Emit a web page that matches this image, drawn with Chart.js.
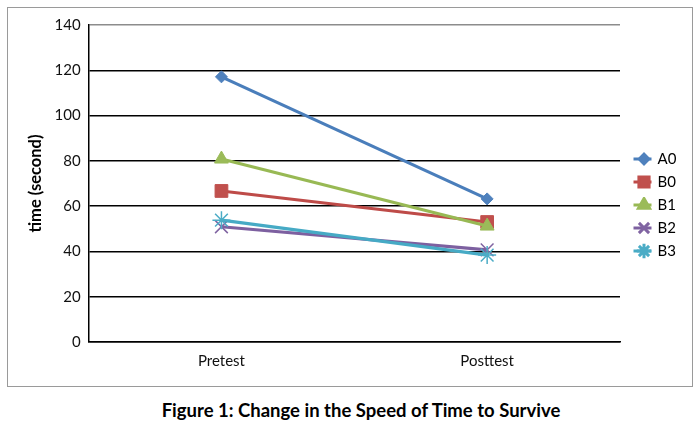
<!DOCTYPE html>
<html>
<head>
<meta charset="utf-8">
<script src="https://cdn.jsdelivr.net/npm/chart.js@4.4.1/dist/chart.umd.min.js"></script>
<style>
  html, body { margin: 0; padding: 0; background: #fff; overflow: hidden; }
  #frame {
    position: absolute; left: 7px; top: 7px; width: 686px; height: 380px;
    box-sizing: border-box; border: 1px solid #9a9a9a;
  }
  #chart { position: absolute; left: 8px; top: 8px; }
  #caption {
    position: absolute; left: 0; top: 399px; width: 722px; text-align: center;
    font: bold 18.5px Lato, "Noto Sans", sans-serif; color: #000;
  }
</style>
</head>
<body>
<div id="frame"></div>
<canvas id="chart" width="684" height="378"></canvas>
<div id="caption">Figure 1: Change in the Speed of Time to Survive</div>
<script>
// values
const categories = ["Pretest", "Posttest"];
const seriesNames = ["A0", "B0", "B1", "B2", "B3"];
const a0 = [117.1, 63.2];
const b0 = [66.7, 53.0];
const b1 = [80.8, 51.2];
const b2 = [50.9, 40.7];
const b3 = [53.8, 38.4];
const yTicks = [0, 20, 40, 60, 80, 100, 120, 140];

// Excel 2007 default series look
const lineColors = ["#4A7EBB", "#BE4B48", "#98B954", "#7D60A0", "#46AAC5"];
const fillColors = ["#4F81BD", "#C0504D", "#9BBB59", "#8064A2", "#4BACC6"];
const markers = ["rectRot", "rect", "triangle", "crossRot", "star"];
const markerSize = [6, 9, 8, 9, 9];
const values = [a0, b0, b1, b2, b3];

const FONT = "Lato, 'Noto Sans', sans-serif";

// small line+marker icons for the legend
function makeIcon(i) {
    const c = document.createElement("canvas");
    c.width = 32;
    c.height = 16;
    const ctx = c.getContext("2d");
    ctx.strokeStyle = lineColors[i];
    ctx.lineWidth = 3;
    ctx.beginPath();
    ctx.moveTo(10.5, 8);
    ctx.lineTo(28.5, 8);
    ctx.stroke();
    ctx.fillStyle = fillColors[i];
    ctx.strokeStyle = fillColors[i];
    Chart.helpers.drawPoint(ctx, {
        pointStyle: markers[i],
        radius: markerSize[i] * 0.8,
        rotation: 0,
        borderWidth: i >= 3 ? 1.5 : 1,
    }, 21, 8);
    return c;
}
const legendIcons = seriesNames.map((_, i) => makeIcon(i));

const datasets = seriesNames.map((name, i) => ({
    label: name,
    data: values[i],
    borderColor: lineColors[i],
    backgroundColor: fillColors[i],
    borderWidth: 3.2,
    pointStyle: markers[i],
    pointRadius: markerSize[i],
    pointBackgroundColor: fillColors[i],
    pointBorderColor: fillColors[i],
    pointBorderWidth: i >= 3 ? 1.5 : 1,
    tension: 0,
    order: seriesNames.length - i, // later series on top, like Excel
}));

// fix the legend column width so the plot ends where the reference does
const legendWidth = {
    id: "legendWidth",
    beforeInit(chart) {
        const fit = chart.legend.fit;
        chart.legend.fit = function () {
            fit.call(this);
            this.width = 72;
        };
    },
};

new Chart(document.getElementById("chart"), {
    type: "line",
    data: { labels: categories, datasets: datasets },
    plugins: [legendWidth],
    options: {
        responsive: false,
        animation: false,
        layout: { padding: { top: 16, left: 0, right: 0, bottom: 0 } },
        plugins: {
            tooltip: { enabled: false },
            legend: {
                position: "right",
                labels: {
                    usePointStyle: true,
                    pointStyleWidth: 22,
                    padding: 8,
                    color: "#000",
                    font: { family: FONT, size: 15 },
                    sort: (a, b) => a.datasetIndex - b.datasetIndex,
                    generateLabels(chart) {
                        const items = Chart.defaults.plugins.legend.labels.generateLabels(chart);
                        items.forEach(it => { it.pointStyle = legendIcons[it.datasetIndex]; });
                        return items;
                    },
                },
            },
        },
        scales: {
            x: {
                offset: true,
                afterFit(scale) { scale.height = 44; },
                grid: {
                    drawTicks: false,
                    lineWidth: 1,
                    color: ctx => (ctx.index === 2 ? "#8c8c8c" : "rgba(0,0,0,0)"),
                },
                border: { display: true, color: "#000", width: 1.5 },
                ticks: { color: "#111", padding: 10, font: { family: FONT, size: 15 } },
            },
            y: {
                min: 0,
                max: 140,
                afterFit(scale) { scale.width = 80.6; },
                afterBuildTicks(scale) { scale.ticks = yTicks.map(v => ({ value: v })); },
                grid: {
                    drawTicks: false,
                    lineWidth: 1.5,
                    color: ctx => (ctx.tick && ctx.tick.value === 140 ? "#8c8c8c" : "#000"),
                },
                border: { display: true, color: "#000", width: 1.5 },
                ticks: { color: "#111", padding: 8, font: { family: FONT, size: 15 } },
                title: {
                    display: true,
                    text: "time (second)",
                    color: "#000",
                    padding: { top: 18, bottom: 0 },
                    font: { family: FONT, size: 16.5, weight: "bold" },
                },
            },
        },
    },
});
</script>
</body>
</html>
